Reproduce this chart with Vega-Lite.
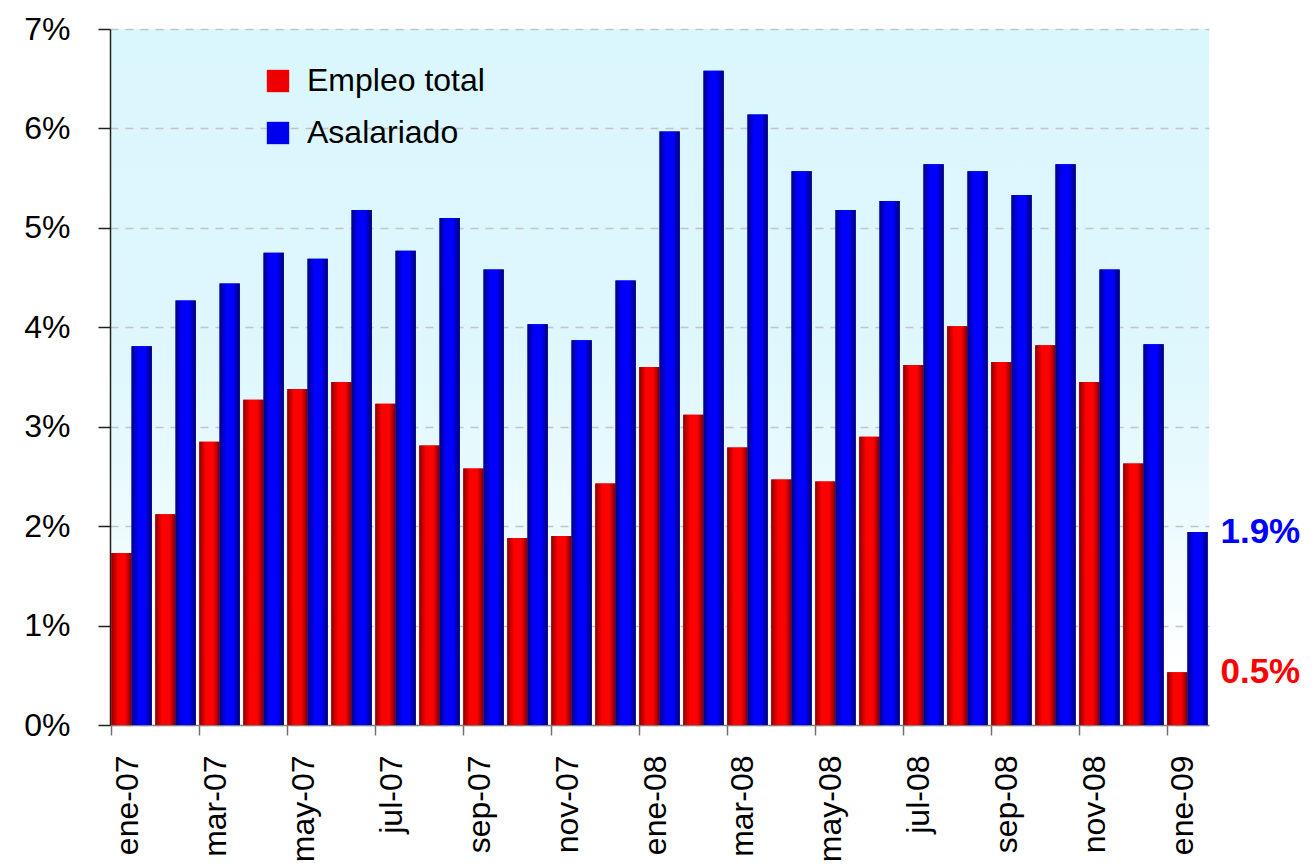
{
  "$schema": "https://vega.github.io/schema/vega-lite/v6.json",
  "width": 1099,
  "height": 696,
  "autosize": {"type": "none"},
  "padding": {"left": 110, "top": 29, "right": 105, "bottom": 140},
  "background": "#ffffff",
  "config": {
    "font": "Liberation Sans",
    "view": {
      "stroke": null,
      "fill": {"gradient": "linear", "x1": 0, "x2": 0, "y1": 0, "y2": 1,
        "stops": [
          {"offset": 0, "color": "#daf7fd"},
          {"offset": 0.45, "color": "#ddf7fd"},
          {"offset": 0.72, "color": "#eefbfe"},
          {"offset": 0.92, "color": "#ffffff"},
          {"offset": 1, "color": "#ffffff"}
        ]}
    }
  },
  "data": {"values": [
    {"mes": "ene-07", "serie": "Empleo total", "v": 0.0173}, {"mes": "ene-07", "serie": "Asalariado", "v": 0.0381},
    {"mes": "feb-07", "serie": "Empleo total", "v": 0.0212}, {"mes": "feb-07", "serie": "Asalariado", "v": 0.0427},
    {"mes": "mar-07", "serie": "Empleo total", "v": 0.0285}, {"mes": "mar-07", "serie": "Asalariado", "v": 0.0444},
    {"mes": "abr-07", "serie": "Empleo total", "v": 0.0327}, {"mes": "abr-07", "serie": "Asalariado", "v": 0.0475},
    {"mes": "may-07", "serie": "Empleo total", "v": 0.0338}, {"mes": "may-07", "serie": "Asalariado", "v": 0.0469},
    {"mes": "jun-07", "serie": "Empleo total", "v": 0.0345}, {"mes": "jun-07", "serie": "Asalariado", "v": 0.0518},
    {"mes": "jul-07", "serie": "Empleo total", "v": 0.0323}, {"mes": "jul-07", "serie": "Asalariado", "v": 0.0477},
    {"mes": "ago-07", "serie": "Empleo total", "v": 0.0281}, {"mes": "ago-07", "serie": "Asalariado", "v": 0.0510},
    {"mes": "sep-07", "serie": "Empleo total", "v": 0.0258}, {"mes": "sep-07", "serie": "Asalariado", "v": 0.0458},
    {"mes": "oct-07", "serie": "Empleo total", "v": 0.0188}, {"mes": "oct-07", "serie": "Asalariado", "v": 0.0403},
    {"mes": "nov-07", "serie": "Empleo total", "v": 0.0190}, {"mes": "nov-07", "serie": "Asalariado", "v": 0.0387},
    {"mes": "dic-07", "serie": "Empleo total", "v": 0.0243}, {"mes": "dic-07", "serie": "Asalariado", "v": 0.0447},
    {"mes": "ene-08", "serie": "Empleo total", "v": 0.0360}, {"mes": "ene-08", "serie": "Asalariado", "v": 0.0597},
    {"mes": "feb-08", "serie": "Empleo total", "v": 0.0312}, {"mes": "feb-08", "serie": "Asalariado", "v": 0.0658},
    {"mes": "mar-08", "serie": "Empleo total", "v": 0.0279}, {"mes": "mar-08", "serie": "Asalariado", "v": 0.0614},
    {"mes": "abr-08", "serie": "Empleo total", "v": 0.0247}, {"mes": "abr-08", "serie": "Asalariado", "v": 0.0557},
    {"mes": "may-08", "serie": "Empleo total", "v": 0.0245}, {"mes": "may-08", "serie": "Asalariado", "v": 0.0518},
    {"mes": "jun-08", "serie": "Empleo total", "v": 0.0290}, {"mes": "jun-08", "serie": "Asalariado", "v": 0.0527},
    {"mes": "jul-08", "serie": "Empleo total", "v": 0.0362}, {"mes": "jul-08", "serie": "Asalariado", "v": 0.0564},
    {"mes": "ago-08", "serie": "Empleo total", "v": 0.0401}, {"mes": "ago-08", "serie": "Asalariado", "v": 0.0557},
    {"mes": "sep-08", "serie": "Empleo total", "v": 0.0365}, {"mes": "sep-08", "serie": "Asalariado", "v": 0.0533},
    {"mes": "oct-08", "serie": "Empleo total", "v": 0.0382}, {"mes": "oct-08", "serie": "Asalariado", "v": 0.0564},
    {"mes": "nov-08", "serie": "Empleo total", "v": 0.0345}, {"mes": "nov-08", "serie": "Asalariado", "v": 0.0458},
    {"mes": "dic-08", "serie": "Empleo total", "v": 0.0263}, {"mes": "dic-08", "serie": "Asalariado", "v": 0.0383},
    {"mes": "ene-09", "serie": "Empleo total", "v": 0.0053}, {"mes": "ene-09", "serie": "Asalariado", "v": 0.0194}
  ]},
  "encoding": {
    "x": {
      "field": "mes", "type": "nominal", "sort": null,
      "scale": {"paddingInner": 0.08, "paddingOuter": 0.03},
      "axis": {
        "title": null,
        "values": ["ene-07", "mar-07", "may-07", "jul-07", "sep-07", "nov-07", "ene-08", "mar-08", "may-08", "jul-08", "sep-08", "nov-08", "ene-09"],
        "bandPosition": 0,
        "labelOffset": -4,
        "labelAngle": -90,
        "labelFontSize": 32,
        "labelColor": "#000000",
        "labelPadding": 20,
        "tickSize": 10,
        "tickColor": "#707070",
        "tickWidth": 1.5,
        "domainColor": "#808080",
        "domainWidth": 1.5,
        "grid": false
      }
    },
    "y": {
      "field": "v", "type": "quantitative",
      "scale": {"domain": [0, 0.07]},
      "axis": {
        "title": null,
        "values": [0, 0.01, 0.02, 0.03, 0.04, 0.05, 0.06, 0.07],
        "format": ".0%",
        "labelFontSize": 32,
        "labelColor": "#000000",
        "labelPadding": 28,
        "tickSize": 12,
        "tickColor": "#202020",
        "tickWidth": 1.5,
        "domainColor": "#202020",
        "domainWidth": 1.5,
        "grid": true,
        "gridColor": "#c4c4c4",
        "gridDash": [8, 7],
        "gridWidth": 1.5
      }
    }
  },
  "layer": [
    {
      "mark": {"type": "bar", "strokeWidth": 0},
      "encoding": {
        "xOffset": {"field": "serie", "type": "nominal", "scale": {"domain": ["Empleo total", "Asalariado"], "paddingInner": 0}},
        "color": {
          "field": "serie", "type": "nominal",
          "scale": {"domain": ["Empleo total", "Asalariado"], "range": ["#ee0000", "#0000ee"]},
          "legend": {
            "title": null,
            "orient": "none",
            "legendX": 152,
            "legendY": 36,
            "padding": 0,
            "labelFontSize": 32,
            "labelLimit": 400,
            "labelColor": "#000000",
            "labelOffset": 13,
            "symbolType": "square",
            "symbolSize": 500,
            "symbolStrokeWidth": 0,
            "symbolOpacity": 1,
            "rowPadding": 20
          }
        }
      }
    },
    {
      "transform": [{"filter": "datum.serie == 'Empleo total'"}],
      "mark": {"type": "bar", "strokeWidth": 0,
        "color": {"gradient": "linear", "x1": 0, "x2": 1, "y1": 0, "y2": 0,
          "stops": [
            {"offset": 0, "color": "#900000"},
            {"offset": 0.18, "color": "#c80000"},
            {"offset": 0.32, "color": "#ff0000"},
            {"offset": 0.68, "color": "#ff0000"},
            {"offset": 0.84, "color": "#c00000"},
            {"offset": 1, "color": "#700000"}
          ]}},
      "encoding": {
        "xOffset": {"field": "serie", "type": "nominal"}
      }
    },
    {
      "transform": [{"filter": "datum.serie == 'Asalariado'"}],
      "mark": {"type": "bar", "strokeWidth": 0,
        "color": {"gradient": "linear", "x1": 0, "x2": 1, "y1": 0, "y2": 0,
          "stops": [
            {"offset": 0, "color": "#000088"},
            {"offset": 0.18, "color": "#0000c4"},
            {"offset": 0.32, "color": "#0000ff"},
            {"offset": 0.68, "color": "#0000ff"},
            {"offset": 0.84, "color": "#0000b4"},
            {"offset": 1, "color": "#000070"}
          ]}},
      "encoding": {
        "xOffset": {"field": "serie", "type": "nominal"}
      }
    },
    {
      "transform": [{"filter": "datum.mes == 'ene-09' && datum.serie == 'Asalariado'"}],
      "mark": {"type": "text", "align": "left", "baseline": "middle", "dx": 33, "fontWeight": "bold", "fontSize": 35, "color": "#0000ff"},
      "encoding": {
        "text": {"field": "v", "type": "quantitative", "format": ".1%"}
      }
    },
    {
      "transform": [{"filter": "datum.mes == 'ene-09' && datum.serie == 'Empleo total'"}],
      "mark": {"type": "text", "align": "left", "baseline": "middle", "dx": 33, "fontWeight": "bold", "fontSize": 35, "color": "#ff0000"},
      "encoding": {
        "text": {"field": "v", "type": "quantitative", "format": ".1%"}
      }
    }
  ]
}
